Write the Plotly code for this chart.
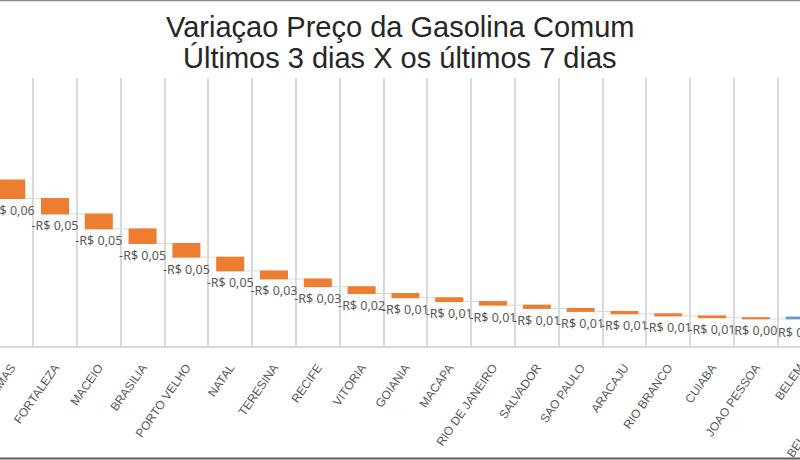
import plotly.graph_objects as go

# ---------------- data ----------------
cities = ["PALMAS", "FORTALEZA", "MACEIO", "BRASILIA", "PORTO VELHO", "NATAL",
          "TERESINA", "RECIFE", "VITORIA", "GOIANIA", "MACAPA", "RIO DE JANEIRO",
          "SALVADOR", "SAO PAULO", "ARACAJU", "RIO BRANCO", "CUIABA",
          "JOAO PESSOA", "BELEM", "BELO HORIZONTE"]
variation = [-0.062, -0.052, -0.050, -0.049, -0.046, -0.046,
             -0.027, -0.026, -0.023, -0.014, -0.013, -0.012,
             -0.011, -0.010, -0.008, -0.007, -0.006,
             -0.004, 0.006, 0.010]
# cumulative variation of the capitals to the left of this view
prior_total = -0.342

title_line1 = "Variaçao Preço da Gasolina Comum"
title_line2 = "Últimos 3 dias X os últimos 7 dias"


def brl(v):
    s = f"{abs(v):.2f}".replace(".", ",")
    neg = v < 0 and round(abs(v), 2) > 0
    return ("-" if neg else "") + "R$ " + s


labels = [brl(v) for v in variation]
labels_shown = [t if v < 0 else "" for t, v in zip(labels, variation)]

# ---------------- geometry ----------------
W, H = 800, 460
plot_top, plot_bot = 78, 346
step = 43.8
first_center = 11.2
r0 = -first_center / step
r1 = r0 + W / step
S = 298.0  # px per R$
y_first_top_px = 180
ymax = prior_total + (y_first_top_px - plot_top) / S
ymin = prior_total - (plot_bot - y_first_top_px) / S
ph = plot_bot - plot_top

orange = "#ED7D31"
blue = "#5B9BD5"
gray_txt = "#595959"
label_font = dict(family="Noto Sans", size=12.5, color=gray_txt)
tick_font = dict(family="Liberation Sans", size=12, color=gray_txt)
tick_angle = -55

fig = go.Figure(go.Waterfall(
    x=cities,
    y=variation,
    base=prior_total,
    measure=["relative"] * len(cities),
    text=labels_shown,
    textposition="outside",
    constraintext="none",
    cliponaxis=False,
    textfont=label_font,
    decreasing=dict(marker=dict(color=orange)),
    increasing=dict(marker=dict(color=blue)),
    totals=dict(marker=dict(color="#A5A5A5")),
    connector=dict(line=dict(color="#D9D9D9", width=1)),
    hoverinfo="skip",
))

fig.update_layout(
    width=W, height=H,
    margin=dict(l=0, r=0, t=plot_top, b=H - plot_bot),
    paper_bgcolor="white", plot_bgcolor="white",
    showlegend=False,
    waterfallgap=0.36,
    xaxis=dict(
        type="category",
        range=[r0, r1],
        automargin=False,
        tickson="boundaries",
        showgrid=True, gridcolor="#D9D9D9", gridwidth=1.5,
        showline=True, linecolor="#D9D9D9", linewidth=1.5,
        ticks="", tickangle=tick_angle, ticklabelstandoff=8,
        tickfont=tick_font,
    ),
    yaxis=dict(range=[ymin, ymax], visible=False, showgrid=False, zeroline=False,
               automargin=False),
)

# data label of the increasing bar (drawn below, as in the original)
belem_idx = cities.index("BELEM")
belem_start = prior_total + sum(variation[:belem_idx])
fig.add_annotation(x="BELEM", y=belem_start, xref="x", yref="y",
                   text=labels[belem_idx], showarrow=False, yanchor="top", yshift=-3,
                   font=label_font)

# tick label of the category beyond the right edge
bh_idx = cities.index("BELO HORIZONTE")
fig.add_annotation(x=(bh_idx - r0) / (r1 - r0), y=0, xref="paper", yref="paper",
                   text="BELO HORIZONTE", showarrow=False, textangle=tick_angle,
                   xanchor="right", yanchor="top", yshift=-16, xshift=16,
                   font=tick_font)

# title (two lines)
fig.add_annotation(x=0.5, y=(plot_bot - 27) / ph, xref="paper", yref="paper",
                   text=title_line1, showarrow=False, yanchor="middle",
                   font=dict(family="Liberation Sans", size=29, color="#262626"))
fig.add_annotation(x=0.5, y=(plot_bot - 58) / ph, xref="paper", yref="paper",
                   text=title_line2, showarrow=False, yanchor="middle",
                   font=dict(family="Liberation Sans", size=29, color="#262626"))

# frame lines of the picture
fig.add_shape(type="line", xref="paper", yref="paper", x0=0, x1=1,
              y0=(plot_bot - 0.5) / ph, y1=(plot_bot - 0.5) / ph,
              line=dict(color="#8C8C8C", width=1.5))
fig.add_shape(type="line", xref="paper", yref="paper", x0=0, x1=1,
              y0=(plot_bot - 458.5) / ph, y1=(plot_bot - 458.5) / ph,
              line=dict(color="#5A5A5A", width=2))

fig.write_html("out.html")
